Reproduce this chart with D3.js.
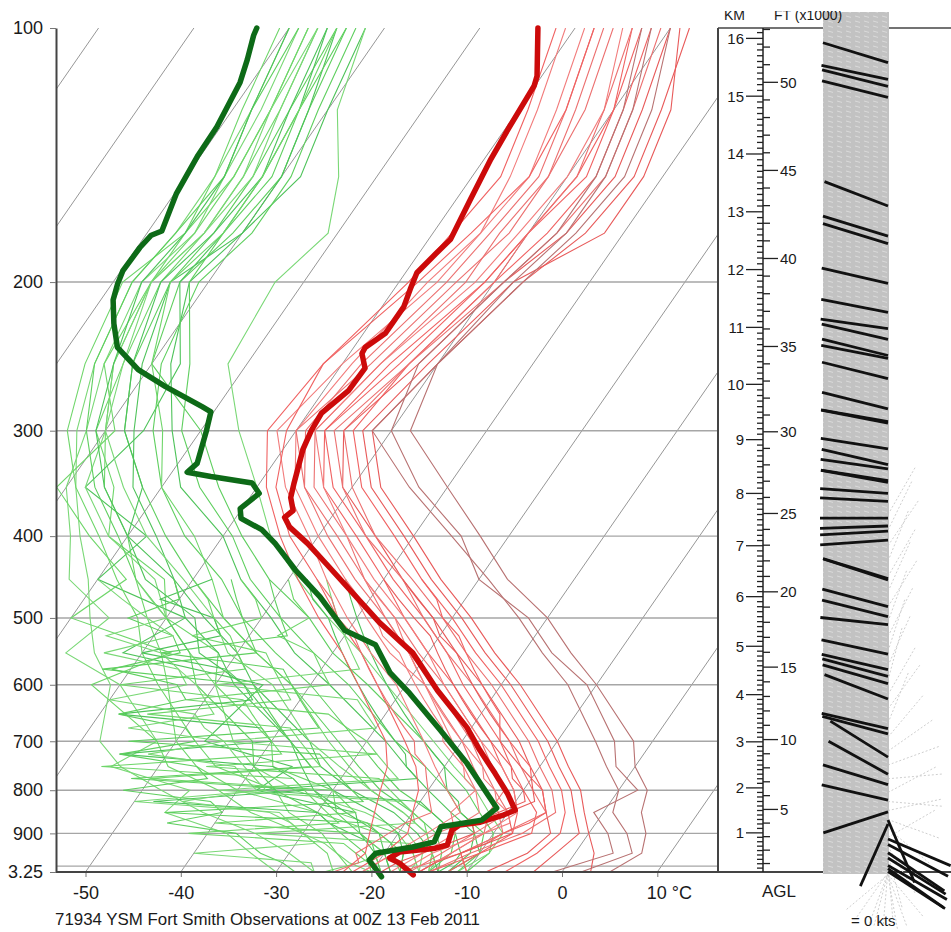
<!DOCTYPE html>
<html>
<head>
<meta charset="utf-8">
<script src="https://cdn.jsdelivr.net/npm/d3@7"></script>
<style>
body { margin: 0; background: #fff; }
svg text { font-family: "Liberation Sans", Arial, sans-serif; fill: #1a1a1a; }
</style>
</head>
<body>
<svg id="chart" width="951" height="932"></svg>
<script>
// pressure levels (hPa) used by the thin climatology traces
var levels = [100,125,150,175,200,250,300,350,400,450,500,550,600,700,750,800,850,900,950,1000];
// finer levels for the lower troposphere traces
var lowLevels = [450,475,500,525,550,575,600,625,650,675,700,725,750,775,800,825,850,875,900,925,950,975,1000];

// thin temperature traces (deg C at each level)
var tempTraces = [
  [-54,-50,-48,-50,-51,-54,-57,-53,-46,-40,-35,-30,-25,-17,-14,-11,-9,-8,-10,-12],
  [-58,-55,-53,-54,-55,-58,-59,-55,-49,-43,-37,-32,-27,-19,-16,-13,-10,-12,-14,-16],
  [-50,-47,-45,-46,-49,-52,-55,-51,-44,-38,-32,-27,-22,-14,-11,-8,-6,-4,-5,-8],
  [-61,-58,-56,-55,-56,-60,-62,-57,-51,-46,-41,-36,-31,-24,-21,-18,-15,-17,-19,-21],
  [-52,-49,-47,-48,-50,-53,-54,-49,-42,-36,-30,-25,-20,-12,-9,-6,-4,-3,-4,-6],
  [-56,-53,-52,-53,-53,-56,-58,-54,-47,-42,-36,-31,-26,-18,-15,-12,-12,-11,-13,-15],
  [-48,-45,-43,-44,-47,-50,-52,-47,-40,-34,-28,-23,-18,-10,-7,-4,-2,0,2,3],
  [-59,-56,-54,-55,-57,-59,-60,-56,-50,-44,-39,-34,-28,-21,-18,-15,-16,-14,-16,-18],
  [-53,-50,-49,-50,-51,-55,-57,-52,-45,-39,-33,-28,-24,-16,-13,-10,-7,-6,-10,-14],
  [-57,-54,-52,-52,-54,-57,-60,-55,-48,-42,-37,-32,-28,-20,-17,-14,-11,-9,-12,-17],
  [-49,-44,-42,-42,-48,-51,-53,-48,-41,-35,-29,-24,-19,-11,-8,-5,-3,-1,-2,-3],
  [-55,-51,-50,-51,-52,-56,-58,-53,-47,-41,-35,-30,-26,-18,-14,-11,-9,-11,-13,-15],
  [-62,-59,-57,-58,-59,-62,-61,-58,-53,-47,-42,-37,-33,-26,-23,-21,-20,-19,-20,-22],
  [-51,-48,-46,-47,-49,-53,-55,-50,-44,-37,-31,-26,-21,-13,-10,-7,-5,-7,-11,-14],
  [-50,-46,-44,-45,-47,-50,-52,-44,-36,-29,-23,-18,-13,-6,-3,0,1,4,6,2],
  [-53,-49,-47,-47,-49,-52,-50,-43,-35,-30,-22,-17,-11,-4,-2,2,-1,2,4,-1],
  [-58,-55,-54,-56,-58,-62,-63,-59,-54,-49,-44,-39,-35,-28,-26,-25,-24,-23,-22,-23],
  [-54,-51,-49,-50,-50,-53,-56,-51,-45,-38,-33,-28,-23,-15,-12,-9,-6,-9,-12,-10],
  [-52,-48,-46,-46,-48,-50,-48,-40,-33,-27,-20,-15,-10,-2,0,3,4,6,7,5]
];

// thin temperature traces, lower troposphere only (lowLevels)
var tempLowTraces = [
  [-40,-37,-34,-31,-29,-27,-25,-23,-21,-19,-17,-15,-13,-12,-10,-9,-11,-13,-12,-14,-16,-18,-19],
  [-44,-41,-38,-36,-33,-31,-29,-27,-25,-23,-22,-20,-18,-17,-15,-14,-13,-14,-16,-17,-19,-20,-21],
  [-36,-33,-31,-28,-26,-24,-22,-20,-18,-17,-15,-13,-11,-10,-8,-7,-6,-7,-9,-10,-12,-11,-10],
  [-47,-44,-42,-39,-37,-35,-33,-31,-29,-27,-25,-24,-22,-21,-20,-19,-18,-20,-21,-22,-23,-22,-24],
  [-38,-35,-32,-30,-27,-25,-23,-21,-19,-17,-16,-14,-12,-10,-9,-8,-10,-9,-8,-10,-12,-14,-15],
  [-42,-39,-36,-34,-32,-30,-28,-26,-24,-22,-20,-18,-16,-15,-13,-12,-10,-9,-11,-13,-15,-16,-17]
];

// thin dewpoint traces (deg C at each level)
var dewTraces = [
  [-85,-84,-83,-83,-84,-82,-78,-72,-66,-60,-54,-48,-42,-33,-29,-25,-20,-16,-14,-13],
  [-88,-86,-85,-86,-86,-84,-80,-76,-70,-66,-62,-58,-55,-50,-46,-40,-30,-22,-18,-17],
  [-82,-80,-78,-80,-82,-78,-73,-68,-60,-55,-49,-44,-38,-28,-24,-20,-16,-12,-11,-12],
  [-90,-88,-87,-87,-88,-86,-83,-79,-75,-71,-68,-65,-61,-58,-54,-48,-42,-35,-30,-26],
  [-84,-82,-80,-81,-83,-80,-70,-64,-58,-52,-45,-40,-34,-24,-20,-16,-13,-10,-9,-10],
  [-87,-85,-84,-84,-85,-83,-81,-75,-72,-63,-60,-52,-50,-40,-38,-30,-28,-20,-17,-15],
  [-86,-83,-82,-82,-83,-77,-76,-78,-68,-70,-58,-62,-45,-47,-36,-38,-26,-24,-21,-19],
  [-89,-87,-86,-85,-87,-85,-82,-80,-76,-73,-66,-68,-60,-52,-55,-45,-46,-38,-34,-30],
  [-83,-81,-79,-79,-81,-79,-75,-70,-64,-57,-52,-46,-40,-31,-27,-23,-18,-14,-13,-14],
  [-91,-89,-87,-86,-89,-87,-84,-79,-73,-68,-63,-60,-56,-48,-44,-36,-33,-28,-25,-22],
  [-85,-82,-80,-80,-84,-81,-77,-73,-67,-62,-56,-50,-46,-36,-33,-28,-22,-18,-15,-13],
  [-87,-85,-83,-84,-86,-84,-80,-78,-72,-64,-60,-55,-50,-44,-40,-34,-25,-19,-16,-15],
  [-84,-83,-81,-82,-82,-76,-72,-66,-59,-54,-48,-42,-36,-27,-22,-18,-15,-11,-10,-11],
  [-88,-86,-85,-85,-86,-85,-79,-81,-74,-67,-70,-57,-63,-52,-49,-42,-37,-30,-26,-24],
  [-86,-84,-82,-83,-85,-82,-78,-72,-70,-62,-58,-52,-48,-38,-34,-30,-24,-20,-18,-17],
  [-82,-79,-74,-71,-73,-72,-66,-60,-55,-49,-43,-37,-32,-23,-19,-15,-12,-9,-9,-11],
  [-89,-88,-86,-87,-88,-86,-82,-77,-71,-66,-60,-55,-52,-42,-40,-36,-30,-26,-22,-20],
  [-85,-83,-82,-82,-84,-80,-74,-70,-63,-58,-54,-48,-42,-34,-30,-26,-21,-17,-15,-14],
  [-90,-88,-86,-86,-87,-84,-81,-76,-70,-65,-57,-54,-47,-38,-35,-32,-27,-22,-20,-18],
  [-87,-86,-84,-84,-86,-83,-80,-74,-68,-61,-55,-51,-44,-36,-31,-26,-21,-17,-15,-14]
];

// thin dewpoint traces, lower troposphere only (lowLevels)
var dewLowTraces = [
  [-50,-48,-45,-47,-42,-40,-38,-52,-36,-33,-30,-28,-45,-26,-24,-22,-20,-18,-17,-16,-15,-14,-14],
  [-58,-62,-55,-53,-60,-50,-47,-45,-58,-42,-40,-55,-38,-35,-33,-48,-30,-28,-25,-22,-20,-19,-18],
  [-46,-44,-42,-40,-38,-36,-50,-34,-32,-30,-45,-28,-26,-24,-42,-22,-20,-19,-35,-18,-17,-16,-16],
  [-62,-60,-64,-58,-56,-62,-54,-52,-58,-50,-48,-55,-46,-44,-52,-42,-40,-45,-37,-35,-33,-30,-28],
  [-55,-52,-50,-56,-47,-45,-43,-41,-55,-39,-37,-35,-33,-50,-30,-28,-26,-40,-24,-22,-20,-22,-25],
  [-48,-46,-43,-41,-39,-37,-35,-33,-31,-29,-27,-25,-24,-22,-38,-20,-18,-16,-14,-13,-12,-12,-13],
  [-66,-63,-60,-65,-58,-55,-53,-60,-50,-48,-45,-52,-42,-40,-38,-45,-35,-32,-30,-27,-25,-23,-20],
  [-52,-50,-48,-46,-58,-44,-42,-40,-38,-36,-55,-34,-32,-30,-28,-26,-46,-24,-22,-20,-19,-18,-17],
  [-60,-57,-55,-52,-50,-48,-60,-46,-44,-42,-40,-38,-56,-35,-33,-31,-29,-27,-42,-25,-23,-21,-20],
  [-44,-42,-40,-38,-36,-34,-32,-30,-28,-26,-24,-22,-20,-19,-18,-16,-15,-13,-12,-11,-10,-11,-12],
  [-70,-66,-62,-58,-64,-55,-52,-50,-48,-56,-45,-43,-41,-39,-37,-50,-34,-32,-30,-28,-40,-27,-26],
  [-56,-54,-52,-50,-48,-63,-46,-44,-42,-40,-38,-36,-34,-52,-32,-30,-28,-26,-24,-22,-21,-20,-19]
];

// observed sounding, temperature
var obsTempP = [100,114,117,131,143,160,178,185,195,204,214,230,239,243,253,269,286,300,316,346,360,373,380,390,408,431,507,550,609,674,717,764,806,845,856,873,880,892,929,937,947,963,976,1008];
var obsTemp  = [-63.9,-60.5,-60.1,-59.7,-59.3,-58.5,-57.7,-58.2,-58.8,-58.3,-57.7,-57.7,-58.8,-58.7,-57.3,-57.4,-58.6,-58.4,-57.9,-56.4,-55.7,-54.5,-54.9,-53.7,-50.6,-47.2,-37.2,-31.6,-26.3,-20.5,-17.5,-14.2,-11.5,-9.4,-10.3,-12.2,-14.2,-14.6,-14.0,-15.0,-18.5,-19.1,-17.7,-15.4];

// observed sounding, dewpoint
var obsDewP = [100,102,109,116,131,142,157,174,176,182,194,201,210,224,239,254,266,281,285,300,328,336,340,346,356,371,381,393,408,439,472,517,538,581,614,679,743,840,868,884,921,934,950,968,1013];
var obsDew  = [-93.4,-93.2,-92.1,-91.2,-90.4,-90.3,-89.8,-88.6,-89.4,-89.7,-89.8,-89.4,-88.7,-86.9,-84.8,-81.0,-76.9,-71.6,-70.3,-69.4,-68.0,-68.4,-65.6,-60.8,-59.3,-60.2,-59.4,-56.4,-54.0,-49.9,-45.4,-40.4,-36.1,-32.5,-29.0,-23.1,-17.9,-11.5,-12.2,-16.0,-15.6,-17.5,-20.9,-21.1,-18.6];

// axis ticks
var pressTicks  = [100,200,300,400,500,600,700,800,900,1000];
var pressLabels = ["100","200","300","400","500","600","700","800","900","3.25"];
var tempTicks = [-50,-40,-30,-20,-10,0,10];
var kmTicks = [1,2,3,4,5,6,7,8,9,10,11,12,13,14,15,16];
var ftTicks = [5,10,15,20,25,30,35,40,45,50];

// observed wind barbs: height (km) and direction (deg)
var barbKm  = [15.58,15.29,15.17,14.98,13.1,12.58,12.45,11.76,11.26,10.98,10.79,10.51,10.46,10.1,9.56,9.33,9.30,8.83,8.54,8.46,8.24,8.21,8.0,7.85,7.53,7.38,7.28,7.11,6.36,6.33,5.8,5.6,5.44,4.84,4.52,4.38,4.23,3.91,3.28,3.17,2.67,2.3,2.07,1.73,1.47,1.29,1.2,0.86,0.74,0.55,0.43,0.26,0.19,0.12];
var barbDir = [287,282,284,284,291,287,287,283,281,278,283,284,281,284,284,280,281,279,283,278,279,280,274,273,270,268,267,266,287,288,285,284,276,282,283,285,286,291,283,285,302,299,287,283,252,157,204,113,118,124,122,120,125,123];

// climatology wind barbs (light grey)
var climBarbKm  = [7.6,7.3,7.0,6.7,6.4,6.1,5.8,5.5,5.2,4.9,4.6,4.3,4.0,3.7,3.4,3.1,2.8,2.5,2.2,1.9,1.7,1.5,1.3,1.1,0.9,0.7,0.5,0.3,0.15,0.1,0.1,0.05,0.05,0.05,0.08,0.03];
var climBarbDir = [30,26,34,22,30,24,32,20,27,18,24,15,30,36,22,40,55,70,85,62,95,78,110,130,60,150,165,175,185,200,215,160,230,140,195,170];

var svg = d3.select("#chart");

var plot = { left: 56, right: 718, top: 28, bottom: 872 };
var skew = 0.693;

var y = d3.scaleLog().domain([100, 1000]).range([plot.top, plot.bottom]);
var x = d3.scaleLinear().domain([-50, 10]).range([85.5, 657.3]);

// skewed x position of a temperature at a pressure
function sx(t, p) { return x(t) + skew * (plot.bottom - y(p)); }

// standard atmosphere height (km) -> pressure (hPa)
function kmToP(h) {
  if (h <= 11) return 1013.25 * Math.pow(1 - 0.0065 * h * 1000 / 288.15, 5.2559);
  return 226.32 * Math.exp(-(h - 11) * 1000 / 6341.6);
}
function yk(h) { return y(kmToP(h)); }

var defs = svg.append("defs");
defs.append("clipPath").attr("id", "plotClip")
  .append("rect").attr("x", plot.left).attr("y", plot.top)
  .attr("width", plot.right - plot.left).attr("height", plot.bottom - plot.top);
defs.append("clipPath").attr("id", "headClip")
  .append("rect").attr("x", 700).attr("y", 11).attr("width", 251).attr("height", 20);

var pat = defs.append("pattern").attr("id", "barbTex")
  .attr("patternUnits", "userSpaceOnUse").attr("width", 9).attr("height", 5);
pat.append("rect").attr("width", 9).attr("height", 5).attr("fill", "#c2c2c2");
pat.append("line").attr("x1", 0).attr("y1", 1).attr("x2", 5).attr("y2", 2.4)
  .attr("stroke", "#dadada").attr("stroke-width", 1);

var grid = svg.append("g").attr("clip-path", "url(#plotClip)");

// isotherms
d3.range(-130, 50, 10).forEach(function(t) {
  grid.append("line")
    .attr("x1", sx(t, 1000)).attr("y1", y(1000))
    .attr("x2", sx(t, 100)).attr("y2", y(100))
    .attr("stroke", "#8a8a8a").attr("stroke-width", 0.9);
});

// isobars
pressTicks.slice(1, 9).concat([984]).forEach(function(p) {
  grid.append("line")
    .attr("x1", plot.left).attr("x2", plot.right)
    .attr("y1", y(p)).attr("y2", y(p))
    .attr("stroke", "#a6a6a6").attr("stroke-width", 1.4);
});

var line = d3.line()
  .x(function(d) { return sx(d.t, d.p); })
  .y(function(d) { return y(d.p); });

function toPts(vals, ps) {
  return vals.map(function(t, i) { return { t: t, p: ps[i] }; });
}

var traces = svg.append("g").attr("clip-path", "url(#plotClip)");
var greens = ["#5fcf5f", "#6fd66a", "#4ec35a", "#7ad876"];
var reds = ["#f06262", "#ec7070", "#e85a5a", "#f27c7c"];

function thin(data, ps, colour) {
  traces.append("path")
    .datum(toPts(data, ps))
    .attr("d", line)
    .attr("fill", "none")
    .attr("stroke", colour)
    .attr("stroke-width", 1.1);
}

dewTraces.forEach(function(tr, i) { thin(tr, levels, greens[i % 4]); });
dewLowTraces.forEach(function(tr, i) { thin(tr, lowLevels, greens[(i + 1) % 4]); });

tempTraces.forEach(function(tr, i) {
  var warm = i == 14 || i == 15 || i == 18;
  thin(tr, levels, warm ? "#b87272" : reds[i % 4]);
});
tempLowTraces.forEach(function(tr, i) { thin(tr, lowLevels, reds[(i + 2) % 4]); });

// observed sounding
svg.append("path")
  .datum(toPts(obsTemp, obsTempP))
  .attr("d", line)
  .attr("fill", "none")
  .attr("stroke", "#cc0a0a")
  .attr("stroke-width", 5.5)
  .attr("stroke-linejoin", "round")
  .attr("stroke-linecap", "round");

svg.append("path")
  .datum(toPts(obsDew, obsDewP))
  .attr("d", line)
  .attr("fill", "none")
  .attr("stroke", "#0d6a17")
  .attr("stroke-width", 5.5)
  .attr("stroke-linejoin", "round")
  .attr("stroke-linecap", "round");

// left pressure axis
var yAxis = d3.axisLeft(y)
  .tickValues(pressTicks)
  .tickFormat(function(d, i) { return pressLabels[i]; })
  .tickSize(6)
  .tickSizeOuter(0)
  .tickPadding(7);

var gy = svg.append("g")
  .attr("transform", "translate(" + plot.left + ",0)")
  .call(yAxis);
gy.select(".domain").attr("stroke", "#444").attr("stroke-width", 2);
gy.selectAll(".tick line").attr("stroke", "#777");
gy.selectAll(".tick text").style("font-size", "18px").attr("fill", "#1a1a1a");

// bottom temperature axis
var xAxis = d3.axisBottom(x)
  .tickValues(tempTicks)
  .tickFormat(function(d) { return d; })
  .tickSize(5)
  .tickSizeOuter(0)
  .tickPadding(9);

var gx = svg.append("g")
  .attr("transform", "translate(0," + plot.bottom + ")")
  .call(xAxis);
gx.select(".domain").remove();
gx.selectAll(".tick line").attr("stroke", "#777");
gx.selectAll(".tick text").style("font-size", "18px").attr("fill", "#1a1a1a")
  .text(function(d) { return d == 10 ? "10 °C" : d; })
  .attr("text-anchor", function(d) { return d == 10 ? "start" : "middle"; })
  .attr("x", function(d) { return d == 10 ? -11 : 0; });

// frame
svg.append("line").attr("x1", plot.left).attr("x2", 951)
  .attr("y1", plot.bottom).attr("y2", plot.bottom)
  .attr("stroke", "#444").attr("stroke-width", 2);
svg.append("line").attr("x1", plot.right).attr("x2", plot.right)
  .attr("y1", plot.top).attr("y2", plot.bottom)
  .attr("stroke", "#444").attr("stroke-width", 2);
svg.append("line").attr("x1", plot.right).attr("x2", 951)
  .attr("y1", plot.top).attr("y2", plot.top)
  .attr("stroke", "#444").attr("stroke-width", 1.5);

// height ruler
var rx = 763;
svg.append("line").attr("x1", rx).attr("x2", rx)
  .attr("y1", plot.top).attr("y2", plot.bottom)
  .attr("stroke", "#222").attr("stroke-width", 1.5);

d3.range(1, 163).forEach(function(i) {
  var h = i / 10, yy = yk(h);
  if (yy > plot.bottom || yy < plot.top) return;
  var major = i % 10 == 0;
  svg.append("line").attr("x1", major ? rx - 17 : rx - 6).attr("x2", rx)
    .attr("y1", yy).attr("y2", yy)
    .attr("stroke", "#222").attr("stroke-width", 1.3);
});

svg.selectAll(".kmLab").data(kmTicks).enter().append("text")
  .attr("class", "kmLab")
  .attr("x", rx - 19).attr("y", function(d) { return yk(d); })
  .attr("dy", "0.36em").attr("text-anchor", "end")
  .style("font-size", "15px")
  .text(function(d) { return d; });

d3.range(1, 54).forEach(function(k) {
  var yy = yk(k * 0.3048);
  if (yy > plot.bottom || yy < plot.top) return;
  var major = k % 5 == 0;
  svg.append("line").attr("x1", rx).attr("x2", major ? rx + 15 : rx + 7)
    .attr("y1", yy).attr("y2", yy)
    .attr("stroke", "#222").attr("stroke-width", 1.3);
});

svg.selectAll(".ftLab").data(ftTicks).enter().append("text")
  .attr("class", "ftLab")
  .attr("x", rx + 17).attr("y", function(d) { return yk(d * 0.3048); })
  .attr("dy", "0.36em")
  .style("font-size", "15px")
  .text(function(d) { return d; });

// wind barbs
var bx = 888;
function barbEnd(km, dir, len) {
  var r = dir * Math.PI / 180;
  return [bx + len * Math.sin(r), yk(km) - len * Math.cos(r)];
}

climBarbKm.forEach(function(km, i) {
  var e = barbEnd(km, climBarbDir[i], 56);
  svg.append("line").attr("x1", bx).attr("y1", yk(km))
    .attr("x2", e[0]).attr("y2", e[1])
    .attr("stroke", "#cfcfcf").attr("stroke-width", 1)
    .attr("stroke-dasharray", "2,2");
});

svg.append("rect").attr("x", 823).attr("y", 12)
  .attr("width", 66).attr("height", plot.bottom + 2 - 12)
  .attr("fill", "url(#barbTex)");

barbKm.forEach(function(km, i) {
  var e = barbEnd(km, barbDir[i], 68);
  svg.append("line").attr("x1", bx).attr("y1", yk(km))
    .attr("x2", e[0]).attr("y2", e[1])
    .attr("stroke", "#111").attr("stroke-width", 2.8);
});

// headers drawn over the barb column
var head = svg.append("g").attr("clip-path", "url(#headClip)");
head.append("text").attr("x", 724).attr("y", 20).style("font-size", "14px").text("KM");
head.append("text").attr("x", 774).attr("y", 20).style("font-size", "14px").text("FT (x1000)");

// labels
svg.append("text").attr("x", 762).attr("y", 897).style("font-size", "17px").text("AGL");
svg.append("text").attr("x", 851).attr("y", 926).style("font-size", "15px").text("= 0 kts");
svg.append("text").attr("x", 55).attr("y", 925)
  .attr("textLength", 425).attr("lengthAdjust", "spacingAndGlyphs")
  .style("font-size", "17px")
  .text("71934 YSM Fort Smith Observations at 00Z 13 Feb 2011");
</script>
</body>
</html>
